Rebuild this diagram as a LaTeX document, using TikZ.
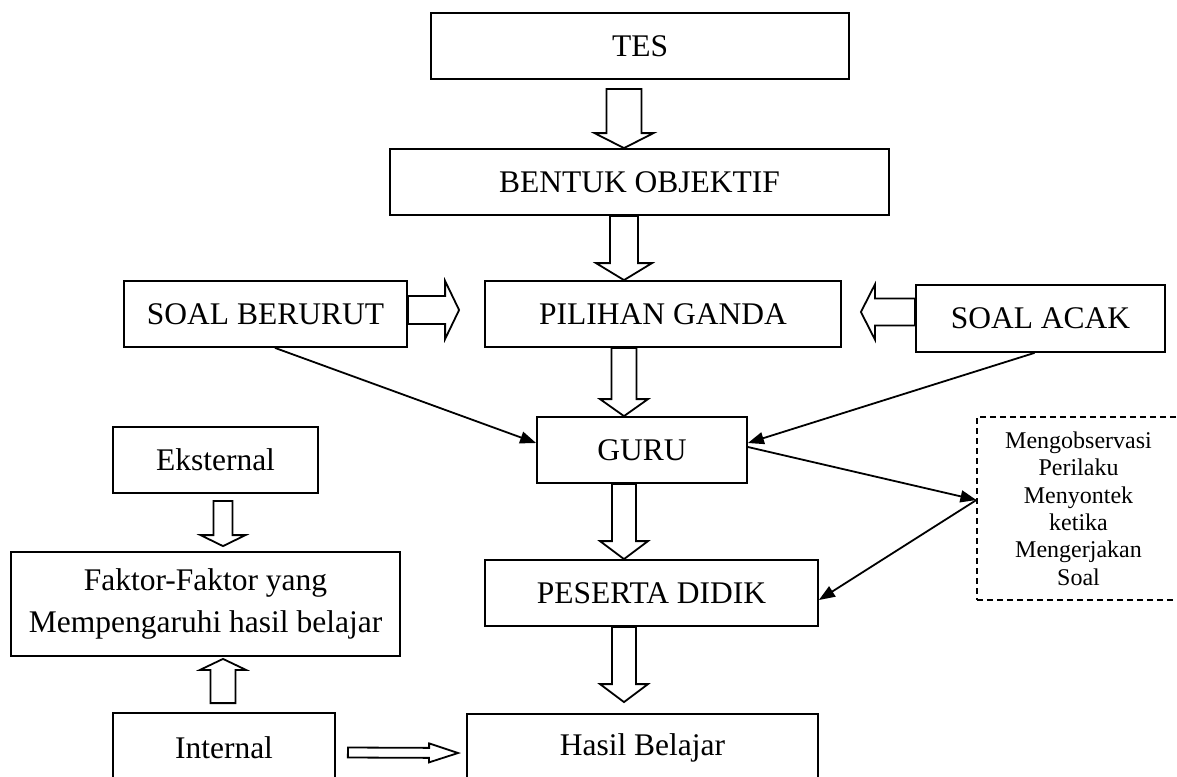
\documentclass[tikz,border=0pt]{standalone}
\usepackage{fontspec}
\setmainfont{Liberation Serif}
\usetikzlibrary{arrows.meta,calc}

% wide hollow arrow: start, tip, half stem, half head, head length
\newcommand{\fatarrow}[5]{%
  \draw[fat] let \p1=(#1), \p2=(#2), \n1={atan2(\y2-\y1,\x2-\x1)}, \n2={veclen(\x2-\x1,\y2-\y1)} in
    [shift={(\p1)}, rotate=\n1] (0pt,-#3) -- ({\n2*1pt-#5},-#3) -- ({\n2*1pt-#5},-#4)
    -- ({\n2*1pt},0pt) -- ({\n2*1pt-#5},#4) -- ({\n2*1pt-#5},#3) -- (0pt,#3) -- cycle;}

\begin{document}
\begin{tikzpicture}[x=0.5pt,y=-0.5pt,
    box/.style={draw,line width=0.9pt,inner sep=0pt,align=center,
      font=\fontsize{15.75}{21.3}\selectfont},
    obsbox/.style={draw,dash pattern=on 3pt off 2pt,line width=0.6pt,inner sep=0pt,
      align=center,font=\fontsize{12}{13.7}\selectfont},
    fat/.style={line width=0.9pt,fill=white,line join=miter},
    link/.style={line width=0.9pt,-{Triangle[length=8pt,width=6pt]}}]

    \useasboundingbox (0,0) rectangle (1177,776);

    % Main column
    \node[box,minimum width=209pt,minimum height=33pt] (tes) at (640,46) {TES};
    \node[box,minimum width=249.5pt,minimum height=33pt] (bentuk) at (639.5,182) {BENTUK OBJEKTIF};
    \node[box,minimum width=178pt,minimum height=33pt] (pilihan) at (663,314) {PILIHAN GANDA};
    \node[box,minimum width=105pt,minimum height=33pt] (guru) at (642,450) {GURU};
    \node[box,minimum width=166.5pt,minimum height=33pt] (peserta) at (651.5,593) {PESERTA DIDIK};
    \node[box,minimum width=175.5pt,minimum height=34pt] (hasil) at (642.5,748) {Hasil Belajar};

    % Side boxes
    \node[box,minimum width=141.5pt,minimum height=33pt] (berurut) at (265.5,314) {SOAL BERURUT};
    \node[box,minimum width=124.5pt,minimum height=33.5pt] (acak) at (1040.5,318.5) {SOAL ACAK};
    \node[obsbox,minimum width=101.5pt,minimum height=91.5pt] (obs) at (1078.5,508.5)
      {Mengobservasi\\Perilaku\\Menyontek\\ketika\\Mengerjakan\\Soal};

    % Factors
    \node[box,minimum width=102.5pt,minimum height=33pt] (eksternal) at (215.5,460) {Eksternal};
    \node[box,minimum width=194.5pt,minimum height=52pt] (faktor) at (205.5,604)
      {Faktor-Faktor yang\\Mempengaruhi hasil belajar};
    \node[box,minimum width=111pt,minimum height=34.5pt] (internal) at (224,747.5) {Internal};

    \coordinate (spine) at (624,0);
    \coordinate (leftspine) at (223,0);

    % Hollow arrows
    \fatarrow{$(spine |- tes.south)+(0,-4.5pt)$}{spine |- bentuk.north}{8.75pt}{14.75pt}{7.5pt}
    \fatarrow{spine |- bentuk.south}{spine |- pilihan.north}{7pt}{14pt}{8.5pt}
    \fatarrow{spine |- pilihan.south}{spine |- guru.north}{6.25pt}{12pt}{8.5pt}
    \fatarrow{spine |- guru.south}{spine |- peserta.north}{6pt}{12pt}{9pt}
    \fatarrow{spine |- peserta.south}{$(spine |- hasil.north)+(0,5.5pt)$}{6pt}{12pt}{9pt}
    \fatarrow{$(berurut.east)+(0,2pt)$}{$(pilihan.west)+(-12.5pt,2pt)$}{7pt}{14.5pt}{7pt}
    \fatarrow{$(acak.west)+(0,3.25pt)$}{$(pilihan.east)+(9.5pt,1pt)$}{6.75pt}{13.75pt}{7pt}
    \fatarrow{$(leftspine |- eksternal.south)+(0,-3.5pt)$}{$(leftspine |- faktor.north)+(0,2.5pt)$}{4.75pt}{11.25pt}{5.5pt}
    \fatarrow{$(leftspine |- internal.north)+(0,4.5pt)$}{$(leftspine |- faktor.south)+(0,-1pt)$}{6.25pt}{11.5pt}{5.5pt}
    \fatarrow{$(internal.east)+(6pt,-2.5pt)$}{$(hasil.west)+(-4pt,-2.5pt)$}{2.5pt}{4.75pt}{14.5pt}

    % Thin arrows
    \draw[link] ([xshift=4.75pt]berurut.south) -- ([yshift=3.5pt]guru.west);
    \draw[link] ([xshift=-3pt]acak.south) -- ([yshift=3.5pt]guru.east);
    \draw[link] ([yshift=1.5pt]guru.east) -- ([yshift=4.25pt]obs.west);
    \draw[link] ([yshift=4.25pt]obs.west) -- ([yshift=-3.5pt]peserta.east);

\end{tikzpicture}
\end{document}
